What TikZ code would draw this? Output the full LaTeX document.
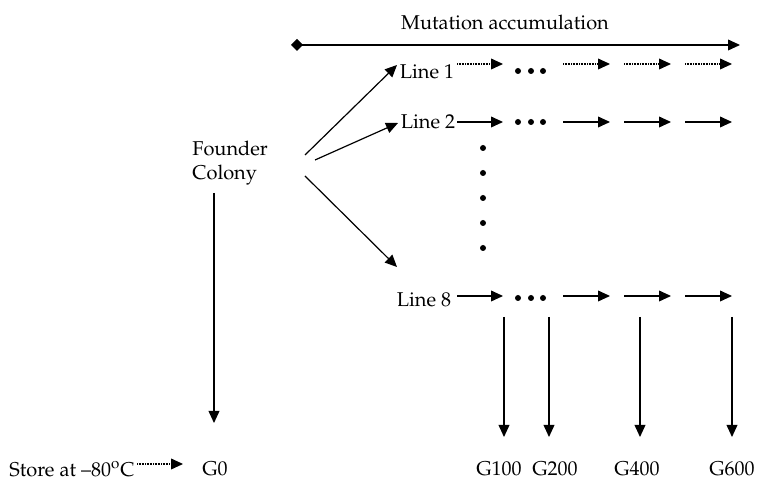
\documentclass[tikz,border=0pt]{standalone}
\usepackage[T1]{fontenc}
\usepackage{mathpazo}
\usetikzlibrary{arrows.meta}
\begin{document}
\begin{tikzpicture}
	[
		x=0.5pt, y=-0.5pt,
		Arrow/.style={draw, line width=0.6pt, -{Triangle[length=6pt,width=5.4pt]}},
		DotArrow/.style={Arrow, dash pattern=on 0.45pt off 0.35pt},
		Dot/.style={fill, circle, inner sep=0pt, minimum size=3pt}
	]
	
	\tikzstyle{Label} = [
		inner sep=0pt,
		text centered
	]
	
	\useasboundingbox (0,0) rectangle (757,485);
	
	% time axis
	\node [Label] (title) at (505,22) {Mutation accumulation};
	\coordinate (axisStart) at (291,45);
	\coordinate (axisEnd) at (740,45);
	\draw [line width=0.6pt, {Diamond[length=6pt,width=6pt]}-{Triangle[length=6pt,width=5.4pt]}] (axisStart) -- (axisEnd);
	
	% founder colony and the lines
	\node [Label, align=left, anchor=north west] (founder) at (192,141) {Founder\\Colony};
	\node [Label] (line1) at (427,72) {Line 1};
	\node [Label] (line2) at (428,122) {Line 2};
	\node [Label] (line8) at (424,300) {Line 8};
	
	\coordinate (f1) at (305,155);
	\coordinate (f2) at (315,160);
	\coordinate (f8) at (305,176);
	\coordinate (t1) at (397,65);
	\coordinate (t2) at (398,123);
	\coordinate (t8) at (397,267);
	\draw [Arrow] (f1) -- (t1);
	\draw [Arrow] (f2) -- (t2);
	\draw [Arrow] (f8) -- (t8);
	
	% generations along each line
	\foreach \row/\y/\d/\sty in {1/64/71/DotArrow, 2/122/122/Arrow, 8/296/298/Arrow}
	{
		\foreach \a/\b [count=\i] in {457/503, 563/610, 624/671, 685/732}
		{
			\coordinate (r\row s\i) at (\a,\y);
			\coordinate (r\row e\i) at (\b,\y);
			\draw [\sty] (r\row s\i) -- (r\row e\i);
		}
		\foreach \x [count=\i] in {518,531,543}
			\node [Dot] (dot\row-\i) at (\x,\d) {};
	}
	\foreach \y [count=\i] in {148,173,198,223,248}
		\node [Dot] (vdot\i) at (483,\y) {};
	
	% frozen samples
	\node [Label] (store) at (72,469) {Store at \textendash80\textsuperscript{o}C};
	\node [Label] (g0) at (215,469) {G0};
	\node [Label] (g100) at (499,469) {G100};
	\node [Label] (g200) at (555,469) {G200};
	\node [Label] (g400) at (637,469) {G400};
	\node [Label] (g600) at (732,469) {G600};
	
	\coordinate (storeStart) at (137,464);
	\coordinate (storeEnd) at (183,464);
	\draw [DotArrow] (storeStart) -- (storeEnd);
	
	\coordinate (founderTop) at (214,193);
	\coordinate (founderEnd) at (214,423);
	\draw [Arrow] (founderTop) -- (founderEnd);
	
	\foreach \x/\g in {504/g100, 549/g200, 640/g400, 732/g600}
	{
		\coordinate (top\g) at (\x,317);
		\coordinate (end\g) at (\x,437);
		\draw [Arrow] (top\g) -- (end\g);
	}
\end{tikzpicture}
\end{document}
